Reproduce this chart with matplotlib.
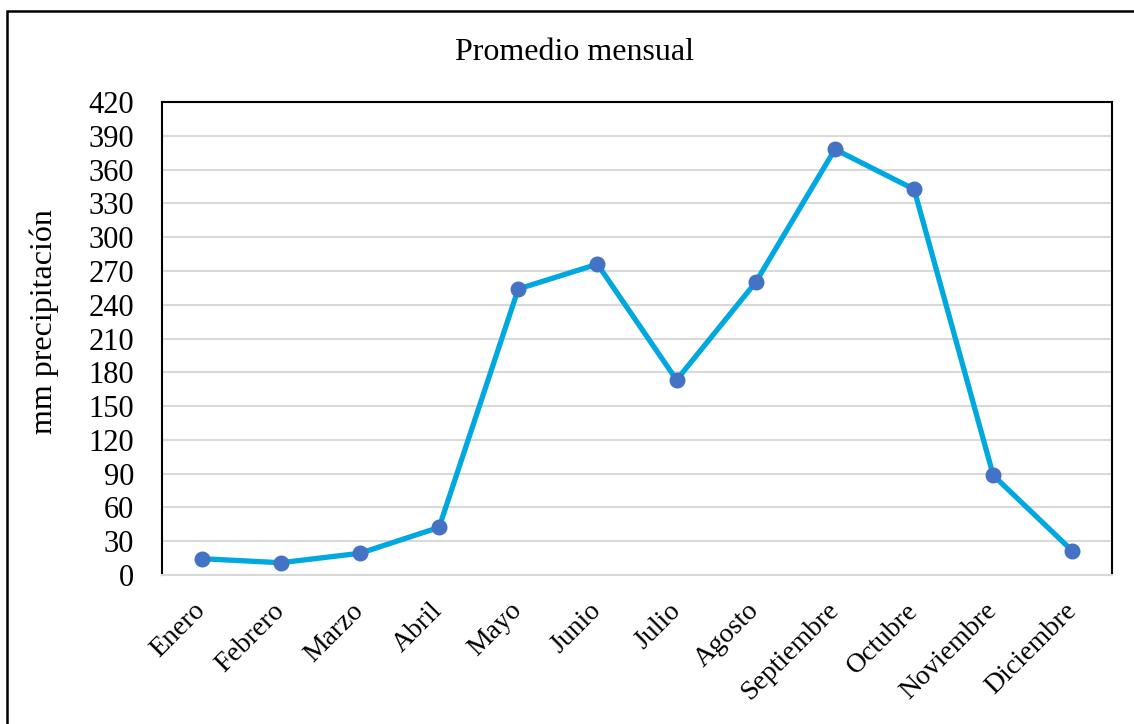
import matplotlib.pyplot as plt
from matplotlib.patches import Rectangle

meses = ['Enero', 'Febrero', 'Marzo', 'Abril', 'Mayo', 'Junio', 'Julio',
         'Agosto', 'Septiembre', 'Octubre', 'Noviembre', 'Diciembre']
precipitacion = [14.5, 10.9, 19.3, 42.3, 254, 276, 173.2, 260, 378, 342.5, 88.5, 21.3]
y_ticks = list(range(0, 421, 30))

plt.rcParams['font.family'] = 'Liberation Serif'

fig = plt.figure(figsize=(11.34, 7.24), dpi=100)
ax = fig.add_axes([0.1429, 0.2058, 0.8377, 0.6533])

# marco exterior (solo se ven los bordes superior e izquierdo)
fig.patches.append(Rectangle((0.0065, -0.05), 1.2, 1.035, transform=fig.transFigure,
                             fill=False, edgecolor='black', linewidth=1.8))

x = range(len(meses))
ax.plot(x, precipitacion, color='#00A8E0', linewidth=3.8, marker='o',
        markersize=10.5, markerfacecolor='#4472C4', markeredgecolor='#4472C4', zorder=3)

ax.set_xlim(-0.5, len(meses) - 0.5)
ax.set_ylim(0, 420)
ax.set_yticks(y_ticks)
ax.set_xticks(list(x))
ax.set_xticklabels(meses, rotation=45, ha='right', va='center', rotation_mode='anchor')
ax.tick_params(axis='x', length=0, labelsize=20, pad=23)
ax.tick_params(axis='y', length=0, labelsize=22, pad=20)
ax.yaxis.grid(True, color='#D9D9D9', linewidth=1.5)
ax.set_axisbelow(True)

for side in ['left', 'top', 'right']:
    ax.spines[side].set_color('black')
    ax.spines[side].set_linewidth(1.5)
ax.spines['bottom'].set_color('#D9D9D9')
ax.spines['bottom'].set_linewidth(1.5)

ax.set_ylabel('mm precipitación', fontsize=23)
ax.yaxis.set_label_coords(-0.108, 0.535)
fig.text(0.5066, 0.928, 'Promedio mensual', ha='center', va='center', fontsize=23)

fig.savefig('out.png', dpi=100)
